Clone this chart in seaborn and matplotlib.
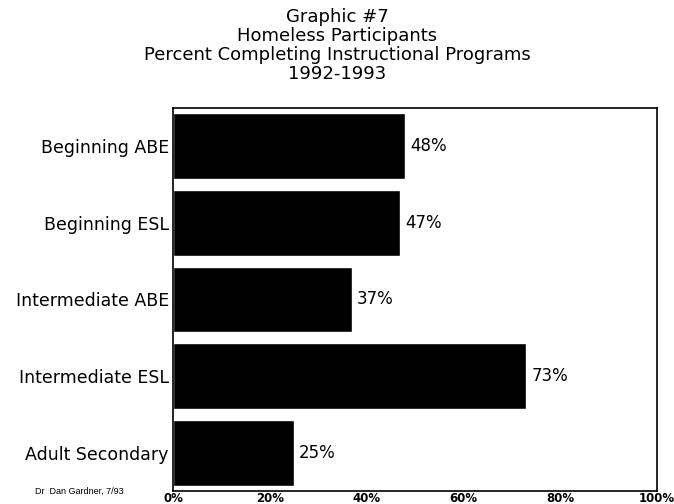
import matplotlib
matplotlib.use('Agg')
import matplotlib.pyplot as plt
import seaborn as sns

programs = ['Beginning ABE', 'Beginning ESL', 'Intermediate ABE',
            'Intermediate ESL', 'Adult Secondary']
percent = [48, 47, 37, 73, 25]
xticks = [0, 20, 40, 60, 80, 100]

sns.set_theme(style='white')
plt.rcParams['font.family'] = ['DejaVu Sans']
plt.rcParams['text.color'] = 'black'
plt.rcParams['xtick.color'] = 'black'
plt.rcParams['ytick.color'] = 'black'

fig = plt.figure(figsize=(6.74, 5.04), dpi=100)
ax = fig.add_axes([173 / 674, 1 - 491 / 504, 484 / 674, 383 / 504])

sns.barplot(x=percent, y=programs, orient='h', color='black',
            saturation=1, width=0.86, ax=ax)

for i, v in enumerate(percent):
    ax.text(v + 1, i, '{}%'.format(v), va='center', ha='left',
            fontsize=12, color='black')

ax.set_xlim(0, 100)
ax.set_xticks(xticks)
ax.set_xticklabels(['{}%'.format(t) for t in xticks], fontsize=8.5,
                   fontweight='bold',
                   family=['Liberation Sans Narrow', 'DejaVu Sans'])
ax.tick_params(axis='x', length=0, pad=1)
ax.tick_params(axis='y', length=0, pad=3, labelsize=12.5)
for s in ax.spines.values():
    s.set_color('black')
    s.set_linewidth(1.2)

fig.text(0.5, 0.984, 'Graphic #7\nHomeless Participants\n'
         'Percent Completing Instructional Programs\n1992-1993',
         ha='center', va='top', fontsize=13, linespacing=1.06)
fig.text(0.052, 0.026, 'Dr  Dan Gardner, 7/93', fontsize=6.5, ha='left',
         va='center', family=['Liberation Sans'])

fig.savefig('out.png', dpi=100)
